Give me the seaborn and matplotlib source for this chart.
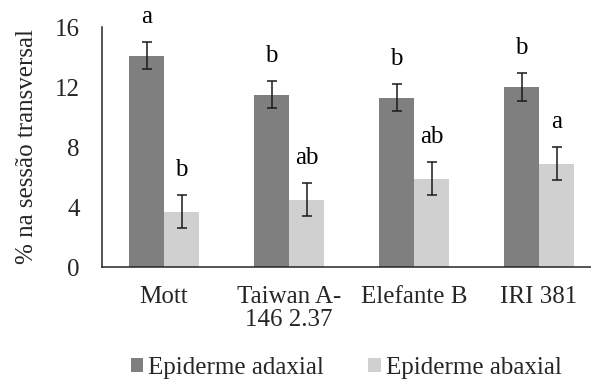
import matplotlib
matplotlib.use("Agg")
import matplotlib.pyplot as plt
from matplotlib.patches import Patch
import pandas as pd
import seaborn as sns

# Cultivars and measured percentages (mean ± error) per epidermis side
categories = ["Mott", "Taiwan A-\n146 2.37", "Elefante B", "IRI 381"]
series_names = ["Epiderme adaxial", "Epiderme abaxial"]
adaxial = [14.1, 11.5, 11.3, 12.0]
adaxial_err = [0.87, 0.92, 0.91, 0.92]
abaxial = [3.7, 4.5, 5.9, 6.9]
abaxial_err = [1.1, 1.12, 1.1, 1.12]
adaxial_letters = ["a", "b", "b", "b"]
abaxial_letters = ["b", "ab", "ab", "a"]
y_ticks = [0, 4, 8, 12, 16]
y_label = "% na sessão transversal"

colors = ["#7f7f7f", "#d0d0d0"]

sns.set_style("white")
plt.rcParams["font.family"] = "serif"
plt.rcParams["font.serif"] = ["Liberation Serif", "Times New Roman", "DejaVu Serif"]
plt.rcParams["font.size"] = 18

df = pd.DataFrame({
    "cultivar": categories * 2,
    "serie": [series_names[0]] * 4 + [series_names[1]] * 4,
    "valor": adaxial + abaxial,
})

fig = plt.figure(figsize=(5.91, 3.79), dpi=100)
ax = fig.add_axes([102 / 591, 1 - 267 / 379, 1 - 102 / 591, 240 / 379])

sns.barplot(data=df, x="cultivar", y="valor", hue="serie",
            order=categories, hue_order=series_names, palette=colors,
            width=0.56, errorbar=None, legend=False, ax=ax,
            saturation=1, linewidth=0)

errs = [adaxial_err, abaxial_err]
vals = [adaxial, abaxial]
letters = [adaxial_letters, abaxial_letters]
for cont, v, e, lab in zip(ax.containers, vals, errs, letters):
    xs = [b.get_x() + b.get_width() / 2 for b in cont]
    ax.errorbar(xs, v, yerr=e, fmt="none", ecolor="#1a1a1a",
                elinewidth=1.1, capsize=3.6, capthick=1.1, zorder=3)
    for x, val, err, t in zip(xs, v, e, lab):
        ax.annotate(t, (x, val + err), xytext=(0, 19),
                    textcoords="offset pixels", ha="center",
                    va="baseline", fontsize=18, color="black")

ax.set_xlim(-0.496, 3.416)
ax.set_ylim(0, 16)
ax.set_yticks(y_ticks)
ax.set_ylabel(y_label, fontsize=18, labelpad=12)
ax.set_xlabel("")
ax.tick_params(axis="y", length=0, pad=16, labelsize=18)
ax.tick_params(axis="x", length=0, pad=14, labelsize=18)
for lbl in ax.get_xticklabels():
    lbl.set_linespacing(1.05)

for s in ["top", "right"]:
    ax.spines[s].set_visible(False)
for s in ["left", "bottom"]:
    ax.spines[s].set_color("#262626")
    ax.spines[s].set_linewidth(1.1)

handles = [Patch(facecolor=c, edgecolor="none", label=n)
           for c, n in zip(colors, series_names)]
fig.legend(handles=handles, loc="center", bbox_to_anchor=(346 / 591, 11 / 379),
           ncol=2, frameon=False, fontsize=18, handlelength=0.5,
           handleheight=0.5, handletextpad=0.2, columnspacing=1.76,
           borderpad=0, borderaxespad=0)

fig.savefig("out.png", dpi=100)
